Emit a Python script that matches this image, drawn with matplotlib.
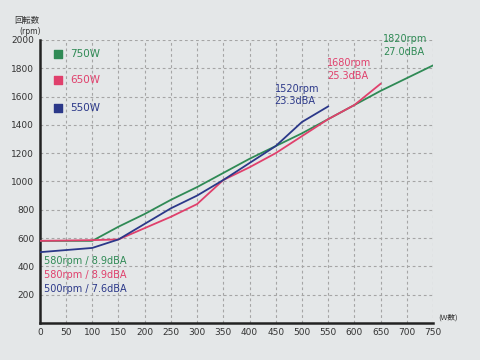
import matplotlib.pyplot as plt

# watts on x, rpm on y
watts_750 = [0, 100, 150, 200, 250, 300, 350, 400, 450, 500, 550, 600, 650, 700, 750]
rpm_750 = [580, 580, 680, 770, 870, 960, 1060, 1160, 1250, 1340, 1440, 1540, 1640, 1730, 1820]

watts_650 = [0, 100, 150, 200, 250, 300, 350, 400, 450, 500, 550, 600, 650]
rpm_650 = [580, 585, 590, 670, 750, 840, 1010, 1100, 1200, 1320, 1440, 1540, 1690]

watts_550 = [0, 100, 150, 200, 250, 300, 350, 400, 450, 500, 550]
rpm_550 = [500, 530, 590, 700, 810, 900, 1010, 1130, 1250, 1420, 1530]

x_ticks = list(range(0, 751, 50))
y_ticks = list(range(0, 2001, 200))

GREEN = '#2f8a55'
RED = '#e0406c'
BLUE = '#2b3889'
BG = '#e4e7e8'
JP = 'Noto Sans CJK JP'

fig = plt.figure(figsize=(4.8, 3.6), dpi=100)
fig.patch.set_facecolor(BG)
ax = fig.add_axes([0.083, 0.103, 0.819, 0.786])
ax.set_facecolor(BG)

ax.plot(watts_750, rpm_750, color=GREEN, lw=1.3, zorder=3)
ax.plot(watts_650, rpm_650, color=RED, lw=1.3, zorder=3)
ax.plot(watts_550, rpm_550, color=BLUE, lw=1.3, zorder=3)

ax.set_xlim(0, 750)
ax.set_ylim(0, 2000)
ax.set_xticks(x_ticks)
ax.set_yticks(y_ticks[1:])
ax.tick_params(labelsize=6.5, colors='#333333', length=0, pad=4)
ax.grid(True, ls=(0, (2.5, 2.5)), color='#a5a5a5', lw=0.8)
for s in ['top', 'right']:
    ax.spines[s].set_visible(False)
for s in ['left', 'bottom']:
    ax.spines[s].set_linewidth(1.8)
    ax.spines[s].set_color('#222222')

# legend squares
legend_items = [('750W', GREEN, 1900), ('650W', RED, 1720), ('550W', BLUE, 1520)]
for lab, c, y in legend_items:
    ax.scatter([35], [y], marker='s', s=40, color=c, zorder=4, clip_on=False)
    ax.text(58, y, lab, color=c, fontsize=7.5, va='center', ha='left')

# end labels
ax.text(655, 1960, '1820rpm\n27.0dBA', color=GREEN, fontsize=7, va='center', linespacing=1.3)
ax.text(548, 1790, '1680rpm\n25.3dBA', color=RED, fontsize=7, va='center', linespacing=1.3)
ax.text(448, 1610, '1520rpm\n23.3dBA', color=BLUE, fontsize=7, va='center', linespacing=1.3)

# start labels
ax.text(8, 440, '580rpm / 8.9dBA', color=GREEN, fontsize=7, va='center')
ax.text(8, 340, '580rpm / 8.9dBA', color=RED, fontsize=7, va='center')
ax.text(8, 240, '500rpm / 7.6dBA', color=BLUE, fontsize=7, va='center')

fig.text(0.03, 0.935, '回転数', fontsize=6, color='#333333', family=JP)
fig.text(0.04, 0.905, '(rpm)', fontsize=5.5, color='#333333')
fig.text(0.912, 0.113, '(W数)', fontsize=5.5, color='#333333', family=JP)

fig.savefig('out.png', dpi=100, facecolor=BG)
